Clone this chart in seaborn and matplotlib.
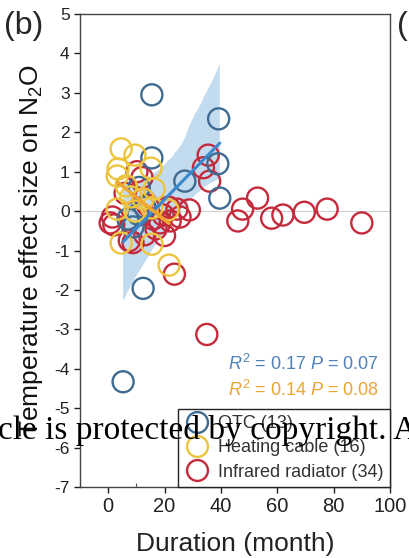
import matplotlib
matplotlib.use("Agg")
import matplotlib.pyplot as plt
import numpy as np
import pandas as pd
import seaborn as sns
from matplotlib.lines import Line2D
from matplotlib.ticker import MultipleLocator
from matplotlib.collections import PolyCollection

# ---------------- data ----------------
otc_x = [15.5, 39.2, 15.5, 38.9, 27.2, 39.6, 8.8, 10.6, 12.4, 5.3, 11.0, 13.0, 7.0]
otc_y = [2.95, 2.34, 1.35, 1.20, 0.76, 0.33, -0.40, -0.08, -1.96, -4.33, 0.60, 0.10, -0.20]

heat_x = [4.6, 9.5, 3.5, 15.2, 3.2, 16.3, 3.2, 21.2, 4.6, 15.5, 21.6, 8.1, 12.4, 15.5, 9.5, 6.4]
heat_y = [1.58, 1.42, 1.07, 1.09, 0.89, 0.56, 0.05, 0.03, -0.81, -0.84, -1.37, 0.36, 0.31, 0.08, 0.00, 0.64]

ir_x = [53.0, 47.7, 46.0, 58.0, 62.0, 69.6, 77.7, 90.0,
        35.0, 23.5, 20.0, 24.4, 28.8, 0.7, 8.8, 18.4, 35.5, 33.8, 36.0,
        2.0, 1.5, 10.2, 12.0, 7.5, 13.0, 17.0, 19.5, 21.5, 22.0, 25.5, 12.5, 6.0, 14.0, 16.0]
ir_y = [0.33, 0.05, -0.25, -0.18, -0.10, -0.03, 0.05, -0.30,
        -3.13, -1.60, -0.62, 0.05, 0.03, -0.30, -0.80, -0.30, 1.42, 1.10, 0.76,
        -0.35, -0.15, 1.00, 0.85, -0.75, -0.60, -0.45, -0.10, 0.10, -0.25, -0.15, 0.30, 0.45, 0.15, -0.20]

group_labels = ["OTC (13)", "Heating cable (16)", "Infrared radiator (34)"]
stat_otc = r"$R^2$ = 0.17 $P$ = 0.07"
stat_heat = r"$R^2$ = 0.14 $P$ = 0.08"
x_ticks = [0, 20, 40, 60, 80, 100]
y_ticks = list(range(-7, 6))

# ---------------- style ----------------
sns.set_style("ticks")
plt.rcParams['font.family'] = ['Liberation Sans', 'DejaVu Sans']
plt.rcParams['mathtext.fontset'] = 'custom'
plt.rcParams['mathtext.rm'] = 'Liberation Sans'
plt.rcParams['mathtext.it'] = 'Liberation Sans:italic'
plt.rcParams['axes.unicode_minus'] = False

c_otc = "#3f6b91"
c_otc_line = "#3a88cc"
c_heat = "#ecc53c"
c_heat_line = "#f0a52e"
c_ir = "#c42a3c"

fig = plt.figure(figsize=(4.09, 5.58), dpi=100)
ax = fig.add_axes([0.1956, 0.1272, 0.7579, 0.8477])

ax.axhline(0, color="#cfcfcf", lw=0.8, zorder=0)

# OTC regression with CI band
sns.regplot(x=otc_x, y=otc_y, scatter=False, ci=95, seed=7, n_boot=1000,
            color=c_otc_line, line_kws=dict(lw=2.2), ax=ax)
for coll in ax.collections:
    if isinstance(coll, PolyCollection):
        coll.set_alpha(0.30)
        coll.set_edgecolor("none")

common = dict(s=230, linewidth=1.7, marker="o", ax=ax)
sns.scatterplot(x=ir_x, y=ir_y, color=c_ir, edgecolor=c_ir, facecolor="none", **common)
sns.scatterplot(x=otc_x, y=otc_y, color=c_otc, edgecolor=c_otc, facecolor="none", **common)
sns.scatterplot(x=heat_x, y=heat_y, color=c_heat, edgecolor=c_heat, facecolor="none", **common)

# heating cable regression line
sns.regplot(x=heat_x, y=heat_y, scatter=False, ci=None,
            color=c_heat_line, line_kws=dict(lw=2.4), ax=ax)

ax.set_xlim(-10, 100)
ax.set_ylim(-7, 5)
ax.set_xticks(x_ticks)
ax.xaxis.set_minor_locator(MultipleLocator(10))
ax.set_yticks(y_ticks)
ax.tick_params(axis="x", which="major", direction="out", length=4, width=1, labelsize=14.5, colors="#222222")
ax.tick_params(axis="x", which="minor", direction="in", length=3, width=0.8, colors="#555555")
ax.tick_params(axis="y", direction="out", length=4, width=1, labelsize=12.5, colors="#222222")
for sp in ax.spines.values():
    sp.set_visible(True)
    sp.set_color("#444444")
    sp.set_linewidth(1.0)

ax.set_xlabel("Duration (month)", fontsize=19, labelpad=11, color="#222222")
ax.set_ylabel("Temperature effect size on N$_2$O", fontsize=19, color="#111111")
ax.yaxis.set_label_coords(-0.112, 0.5)

ax.text(96, -3.87, stat_otc, ha="right", va="center", fontsize=13, color="#4f82b8")
ax.text(96, -4.53, stat_heat, ha="right", va="center", fontsize=13, color="#eaa633")

handles = [Line2D([], [], ls="", marker="o", markersize=15, markerfacecolor="none",
                  markeredgewidth=1.7, markeredgecolor=c) for c in (c_otc, c_heat, c_ir)]
leg = ax.legend(handles, group_labels, loc="lower right", borderaxespad=0, fontsize=13,
                frameon=True, fancybox=False, framealpha=1, edgecolor="#222222",
                handletextpad=0.4, labelspacing=0.4, borderpad=0.35, handlelength=1.5)
leg.get_frame().set_linewidth(1.0)
for t in leg.get_texts():
    t.set_color("#333333")

fig.text(4 / 409, 1 - 26 / 558, "(b)", fontsize=23, va="center", ha="left")
fig.text(397 / 409, 1 - 26 / 558, "(", fontsize=23, va="center", ha="left")
fig.text(-2 / 409, 1 - 439 / 558, "cle is protected by copyright. A", fontsize=24,
         family=["Liberation Serif", "DejaVu Serif"], va="baseline", ha="left", color="black")

fig.savefig("out.png", dpi=100)
